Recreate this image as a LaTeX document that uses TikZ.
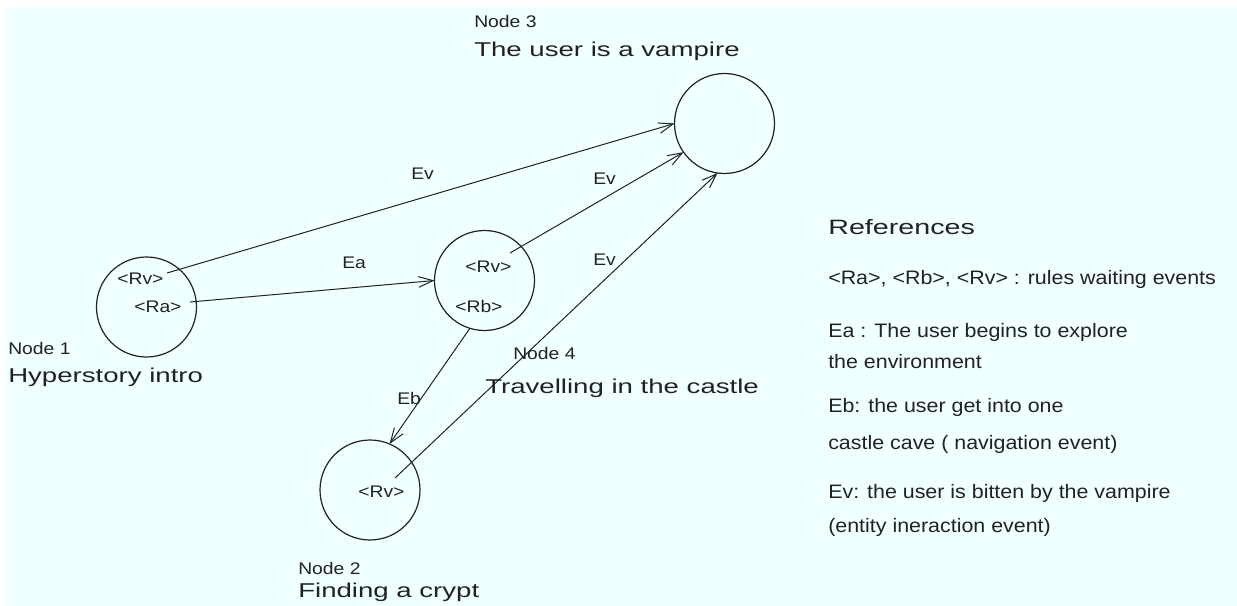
\documentclass[tikz,border=0pt]{standalone}
\usepackage{fontspec}
\setmainfont{Liberation Sans}
\newfontfamily\fsm[FakeStretch=1.15]{Liberation Sans}
\newfontfamily\frf[FakeStretch=1.1]{Liberation Sans}
\newfontfamily\fbg[FakeStretch=1.38]{Liberation Sans}
\usetikzlibrary{arrows.meta}
\definecolor{bg}{HTML}{F0FFFF}
\definecolor{ink}{HTML}{222222}
\begin{document}
\begin{tikzpicture}[x=0.75pt,y=-0.75pt,
  stnode/.style={circle,draw=ink,line width=0.9pt,minimum size=75pt,inner sep=0pt,outer sep=0pt},
  small/.style={anchor=base west,inner sep=0pt,font=\fsm\fontsize{12.6pt}{14pt}\selectfont,text=ink},
  big/.style={anchor=base west,inner sep=0pt,font=\fbg\fontsize{15pt}{18pt}\selectfont,text=ink},
  title/.style={anchor=base west,inner sep=0pt,font=\fbg\fontsize{15.6pt}{18pt}\selectfont,text=ink},
  ref/.style={anchor=base west,inner sep=0pt,font=\frf\fontsize{14.6pt}{17pt}\selectfont,text=ink},
  conn/.style={draw=ink,line width=0.75pt,-{Straight Barb[length=11pt,width=8pt]}}]
\fill[white] (0,0) rectangle (1237,606);
\fill[bg] (5,7) rectangle (1237,606);
\useasboundingbox (0,0) rectangle (1237,606);

% state circles
\node[stnode] (n1) at (146.5,307) {};
\node[stnode] (n4) at (484.5,280.5) {};
\node[stnode] (n2) at (370,490) {};
\node[stnode] (n3) at (724.5,123.5) {};

% rule labels inside circles
\node[small] (r1v) at (117,284) {<Rv>};
\node[small] (r1a) at (134,312) {<Ra>};
\node[small] (r4v) at (465,272) {<Rv>};
\node[small] (r4b) at (455,312) {<Rb>};
\node[small] (r2v) at (358,497) {<Rv>};

% edge start points
\coordinate (s1v) at (167,273);
\coordinate (s1a) at (190,302);
\coordinate (s4v) at (510,253);
\coordinate (s2v) at (395,478);

% connectors
\draw[conn] (s1v) -- (n3.180);
\draw[conn] (s1a) -- (n4.180);
\draw[conn] (s4v) -- (n3.215);
\draw[conn] (s2v) -- (n3.262);
\draw[conn] (n4.253) -- (n2.67);

% edge labels
\node[small] (lev1) at (411,180) {Ev};
\node[small] (lea) at (342,268) {Ea};
\node[small] (lev2) at (593,184) {Ev};
\node[small] (lev3) at (593,265) {Ev};
\node[small] (leb) at (397,404) {Eb};

% node titles
\node[small] (t3a) at (474,28) {Node 3};
\node[big] (t3b) at (474,57) {The user is a vampire};
\node[small] (t1a) at (8,354) {Node 1};
\node[big] (t1b) at (8,382) {Hyperstory intro};
\node[small] (t4a) at (513,359) {Node 4};
\node[big] (t4b) at (485,393) {Travelling in the castle};
\node[small] (t2a) at (298,574) {Node 2};
\node[big] (t2b) at (298,597) {Finding a crypt};

% references
\node[title] (rt) at (828,234) {References};
\node[ref] (rl1) at (828,284) {<Ra>, <Rb>, <Rv> : rules waiting events};
\node[ref] (rl2) at (828,337) {Ea : The user begins to explore};
\node[ref] (rl3) at (828,368) {the environment};
\node[ref] (rl4) at (828,412) {Eb: the user get into one};
\node[ref] (rl5) at (828,449) {castle cave ( navigation event)};
\node[ref] (rl6) at (828,498) {Ev: the user is bitten by the vampire};
\node[ref] (rl7) at (828,532) {(entity ineraction event)};
\end{tikzpicture}
\end{document}
